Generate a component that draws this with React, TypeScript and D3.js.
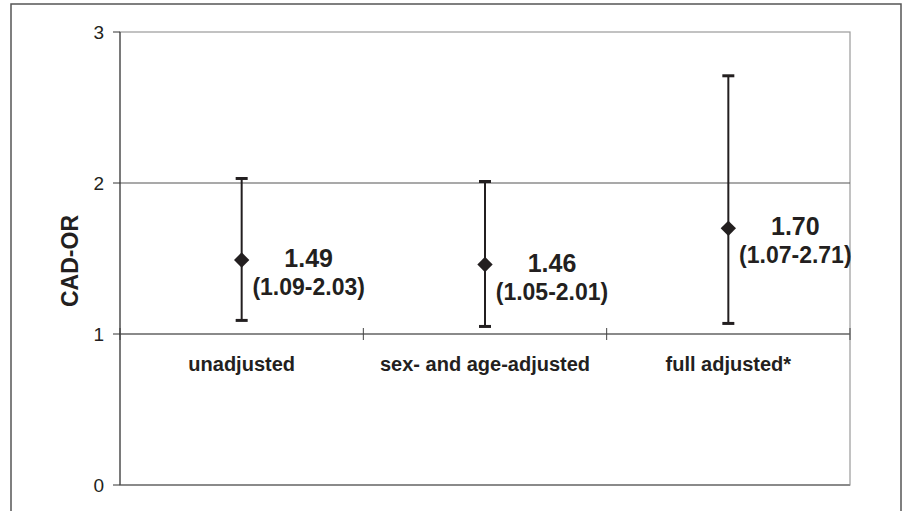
import React from "react";
import * as d3 from "d3";

const categories = ["unadjusted", "sex- and age-adjusted", "full adjusted*"];
const orValues = [1.49, 1.46, 1.7];
const lowerCI = [1.09, 1.05, 1.07];
const upperCI = [2.03, 2.01, 2.71];
const yTicks = [0, 1, 2, 3];
const yLabel = "CAD-OR";

const W = 904;
const H = 511;
const M = { left: 120, right: 850, top: 32, bottom: 485 };
const INK = "#231f20";
const FONT = "Arial, 'Liberation Sans', Helvetica, sans-serif";

export default function App() {
  const y = d3.scaleLinear().domain([0, 3]).range([M.bottom, M.top]);
  const x = d3.scaleBand<string>().domain(categories).range([M.left, M.right]).padding(0);
  const cx = (c: string) => (x(c) ?? 0) + x.bandwidth() / 2;
  const diamond = d3.symbol().type(d3.symbolDiamond2).size(150)();
  const axisY = y(1);
  const catTicks = [...categories.map((c) => x(c) ?? 0), M.right];

  return (
    <svg width={W} height={H} style={{ position: "absolute", left: 0, top: 0, background: "#fff" }}>
      <rect x={0} y={0} width={W} height={H} fill="#fff" />
      {/* outer frame */}
      <path d={`M11,${H + 5} V4 H901 V${H + 5}`} fill="none" stroke="#555" strokeWidth={1.5} />
      {/* plot frame */}
      <rect x={M.left} y={M.top} width={M.right - M.left} height={M.bottom - M.top} fill="none" stroke="#9a9a9a" strokeWidth={1.2} />
      <line x1={M.left} x2={M.right} y1={M.bottom} y2={M.bottom} stroke="#8a8a8a" strokeWidth={2} />
      {/* gridline at 2 */}
      <line x1={M.left} x2={M.right} y1={y(2)} y2={y(2)} stroke="#555" strokeWidth={1.2} />
      {/* category axis at 1 */}
      <line x1={M.left} x2={M.right} y1={axisY} y2={axisY} stroke="#8a8a8a" strokeWidth={2} />
      {catTicks.map((t, i) => (
        <line key={i} x1={t} x2={t} y1={axisY - 6} y2={axisY + 6} stroke="#444" strokeWidth={1} />
      ))}
      {/* y axis */}
      <line x1={M.left} x2={M.left} y1={M.top} y2={M.bottom} stroke="#333" strokeWidth={1} />
      {yTicks.map((t) => (
        <g key={t}>
          <line x1={M.left - 7} x2={M.left} y1={y(t)} y2={y(t)} stroke="#333" strokeWidth={1} />
          <text x={104} y={y(t) + 7} textAnchor="end" fontFamily={FONT} fontSize={19} fill={INK}>
            {t}
          </text>
        </g>
      ))}
      <text
        transform={`translate(78,${261}) rotate(-90)`}
        textAnchor="middle"
        fontFamily={FONT}
        fontWeight="bold"
        fontSize={23}
        fill={INK}
      >
        {yLabel}
      </text>
      {/* category labels */}
      {categories.map((c) => (
        <text key={c} x={cx(c)} y={371} textAnchor="middle" fontFamily={FONT} fontWeight="bold" fontSize={20} fill={INK}>
          {c}
        </text>
      ))}
      {/* error bars */}
      {categories.map((c, i) => {
        const px = cx(c);
        return (
          <g key={c}>
            <line x1={px} x2={px} y1={y(lowerCI[i])} y2={y(upperCI[i])} stroke={INK} strokeWidth={2} />
            <line x1={px - 6} x2={px + 6} y1={y(lowerCI[i])} y2={y(lowerCI[i])} stroke={INK} strokeWidth={3} />
            <line x1={px - 6} x2={px + 6} y1={y(upperCI[i])} y2={y(upperCI[i])} stroke={INK} strokeWidth={3} />
            <path d={diamond ?? ""} transform={`translate(${px},${y(orValues[i])})`} fill={INK} />
            <text x={px + 67} y={y(orValues[i]) + 7} textAnchor="middle" fontFamily={FONT} fontWeight="bold" fontSize={25} fill={INK}>
              {orValues[i].toFixed(2)}
            </text>
            <text x={px + 67} y={y(orValues[i]) + 35} textAnchor="middle" fontFamily={FONT} fontWeight="bold" fontSize={23} fill={INK}>
              {`(${lowerCI[i].toFixed(2)}-${upperCI[i].toFixed(2)})`}
            </text>
          </g>
        );
      })}
    </svg>
  );
}
